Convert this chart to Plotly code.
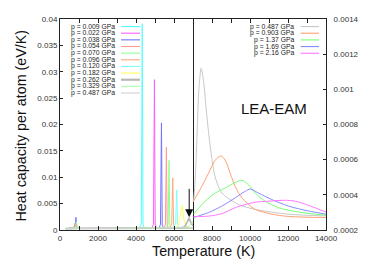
import plotly.graph_objects as go

# ---------------- data ----------------
# Left panel (0 - 7000 K), left axis, eV/K per atom
left_labels = ["p = 0.009 GPa", "p = 0.022 GPa", "p = 0.038 GPa", "p = 0.054 GPa",
               "p = 0.070 GPa", "p = 0.096 GPa", "p = 0.120 GPa", "p = 0.182 GPa",
               "p = 0.262 GPa", "p = 0.329 GPa", "p = 0.487 GPa"]
left_colors = ["#55ffff", "#ff5cff", "#7373ff", "#ff9a90", "#90ff90", "#ffaa7a",
               "#80ffff", "#ffff5c", "#b8b8b8", "#aaffaa", "#d2d2d2"]
left_widths = [1, 1, 1, 1, 1, 1, 1, 1, 1.8, 1, 1]

T_009 = [300, 600, 720, 780, 810, 840, 900, 1200, 2500, 4000, 4200, 4280, 4330, 4370, 4450, 5000, 6000, 7000]
C_009 = [0.00026, 0.00027, 0.00040, 0.00070, 0.00110, 0.00055, 0.00030, 0.00028, 0.00028, 0.00030,
         0.00045, 0.0012, 0.0391, 0.0010, 0.00040, 0.00034, 0.00033, 0.00033]
T_022 = [300, 600, 700, 760, 790, 820, 880, 1200, 2500, 4500, 4850, 4920, 4970, 5010, 5100, 6000, 7000]
C_022 = [0.00026, 0.00027, 0.00040, 0.00080, 0.00125, 0.00060, 0.00030, 0.00028, 0.00029, 0.00031,
         0.00045, 0.0011, 0.0285, 0.0009, 0.00038, 0.00034, 0.00033]
T_038 = [300, 600, 760, 810, 840, 870, 930, 1200, 2500, 5000, 5230, 5290, 5340, 5380, 5460, 6200, 7000]
C_038 = [0.00026, 0.00027, 0.00045, 0.00110, 0.00240, 0.00080, 0.00030, 0.00028, 0.00029, 0.00032,
         0.00048, 0.0011, 0.0203, 0.0009, 0.00038, 0.00034, 0.00033]
T_054 = [300, 600, 720, 770, 800, 830, 890, 1200, 2500, 5200, 5490, 5550, 5600, 5640, 5720, 6400, 7000]
C_054 = [0.00026, 0.00027, 0.00040, 0.00080, 0.00120, 0.00060, 0.00030, 0.00028, 0.00029, 0.00033,
         0.00050, 0.0011, 0.0157, 0.0009, 0.00038, 0.00034, 0.00033]
T_070 = [300, 600, 780, 830, 860, 890, 950, 1300, 2500, 5300, 5620, 5690, 5740, 5780, 5860, 6500, 7000]
C_070 = [0.00026, 0.00027, 0.00040, 0.00090, 0.00160, 0.00070, 0.00030, 0.00028, 0.00029, 0.00033,
         0.00052, 0.0012, 0.0132, 0.0009, 0.00040, 0.00035, 0.00034]
T_096 = [300, 600, 800, 850, 880, 910, 970, 1300, 2500, 5500, 5810, 5880, 5935, 5980, 6060, 6600, 7000]
C_096 = [0.00026, 0.00027, 0.00038, 0.00070, 0.00100, 0.00055, 0.00030, 0.00028, 0.00029, 0.00034,
         0.00055, 0.0012, 0.0099, 0.0010, 0.00042, 0.00036, 0.00035]
T_120 = [300, 600, 820, 870, 900, 930, 990, 1300, 2500, 5700, 6010, 6085, 6145, 6195, 6280, 6700, 7000]
C_120 = [0.00026, 0.00027, 0.00036, 0.00060, 0.00080, 0.00050, 0.00030, 0.00028, 0.00029, 0.00035,
         0.00060, 0.0013, 0.0076, 0.0011, 0.00045, 0.00037, 0.00036]
T_182 = [300, 600, 850, 900, 930, 960, 1020, 1300, 2500, 6000, 6230, 6330, 6430, 6520, 6620, 6800, 7000]
C_182 = [0.00026, 0.00027, 0.00034, 0.00050, 0.00060, 0.00045, 0.00030, 0.00028, 0.00029, 0.00036,
         0.00080, 0.0024, 0.0046, 0.0020, 0.00065, 0.00042, 0.00040]
T_262 = [300, 600, 880, 930, 960, 990, 1050, 1300, 2500, 6300, 6560, 6680, 6790, 6890, 6960, 7000]
C_262 = [0.00026, 0.00027, 0.00032, 0.00045, 0.00050, 0.00040, 0.00030, 0.00028, 0.00029, 0.00037,
         0.00060, 0.0014, 0.0023, 0.0014, 0.0009, 0.0008]
T_329 = [300, 600, 900, 960, 990, 1020, 1080, 1300, 2500, 6300, 6600, 6800, 6900, 7000]
C_329 = [0.00026, 0.00027, 0.00031, 0.00040, 0.00045, 0.00038, 0.00030, 0.00028, 0.00029, 0.00036,
         0.00045, 0.00080, 0.00115, 0.00170]
T_487l = [300, 600, 930, 990, 1020, 1050, 1110, 1300, 2500, 6300, 6700, 6900, 7000]
C_487l = [0.00026, 0.00027, 0.00030, 0.00036, 0.00040, 0.00035, 0.00029, 0.00028, 0.00029, 0.00033,
          0.00036, 0.00040, 0.00045]

left_T = [T_009, T_022, T_038, T_054, T_070, T_096, T_120, T_182, T_262, T_329, T_487l]
left_C = [C_009, C_022, C_038, C_054, C_070, C_096, C_120, C_182, C_262, C_329, C_487l]

# Right panel (7000 - 14000 K), right axis
right_labels = ["p = 0.487 GPa", "p = 0.903 GPa", "p = 1.37 GPa", "p = 1.69 GPa", "p = 2.16 GPa"]
right_colors = ["#c8c8c8", "#ffa070", "#77ff77", "#8a8aff", "#ff77ff"]

T_487 = [7025, 7100, 7200, 7300, 7430, 7550, 7700, 7815, 8000, 8170, 8517, 9000, 9396, 10277, 12030, 14000]
C_487 = [0.00036, 0.00046, 0.00070, 0.00098, 0.00112, 0.00105, 0.00088, 0.00076, 0.00060, 0.00050,
         0.00041, 0.00037, 0.000345, 0.000317, 0.00029, 0.00028]
T_903 = [7025, 7462, 7815, 8170, 8465, 8694, 8958, 9222, 9570, 10277, 11150, 12030, 14000]
C_903 = [0.000364, 0.000448, 0.000522, 0.000597, 0.000621, 0.000597, 0.000522, 0.000448, 0.000383,
         0.000317, 0.00029, 0.000277, 0.000271]
T_137 = [7025, 7640, 8170, 8694, 9222, 9570, 9925, 10277, 10800, 11505, 12560, 14000]
C_137 = [0.00029, 0.000364, 0.00041, 0.000439, 0.00047, 0.000482, 0.000457, 0.00041, 0.000364,
         0.000327, 0.000302, 0.000284]
T_169 = [7025, 7815, 8517, 9222, 9750, 10013, 10450, 11150, 12030, 13085, 14000]
C_169 = [0.000271, 0.000299, 0.000336, 0.000383, 0.00042, 0.000433, 0.00041, 0.000373, 0.000336,
         0.000308, 0.00029]
T_216 = [7025, 7815, 8517, 9222, 9750, 10277, 10977, 11855, 12384, 13085, 14000]
C_216 = [0.000276, 0.000279, 0.000293, 0.000327, 0.000345, 0.000358, 0.000364, 0.000369, 0.000364,
         0.00034, 0.000302]

right_T = [T_487, T_903, T_137, T_169, T_216]
right_C = [C_487, C_903, C_137, C_169, C_216]

# Axis ticks
left_x_ticks = [0, 1000, 2000, 3000, 4000, 5000, 6000, 7000]
left_x_text = ["0", "", "2000", "", "4000", "", "6000", ""]
right_x_ticks = [7000, 8000, 9000, 10000, 11000, 12000, 13000, 14000]
right_x_text = ["", "8000", "", "10000", "", "12000", "", "14000"]
left_y_ticks = [0, 0.005, 0.01, 0.015, 0.02, 0.025, 0.03, 0.035, 0.04]
left_y_text = ["0", "0.005", "0.01", "0.015", "0.02", "0.025", "0.03", "0.035", "0.04"]
right_y_ticks = [0.0002, 0.0004, 0.0006, 0.0008, 0.001, 0.0012, 0.0014]
right_y_text = ["0.0002", "0.0004", "0.0006", "0.0008", "0.001", "0.0012", "0.0014"]

arrow_T, arrow_C = 6800, 0.0024

# ---------------- figure ----------------
W, H = 371, 273
PL, PR, PT, PB = 52, 318, 7, 222
FONT = "Liberation Sans, Arial, Helvetica, sans-serif"


def px(x):
    return (x - PL) / (PR - PL)


def py(y):
    return (PB - y) / (PB - PT)


fig = go.Figure()

for T, C, col, w, lab in zip(left_T, left_C, left_colors, left_widths, left_labels):
    fig.add_trace(go.Scatter(x=T, y=C, mode="lines", line=dict(color=col, width=w),
                             xaxis="x", yaxis="y", name=lab, showlegend=False))

for T, C, col, lab in zip(right_T, right_C, right_colors, right_labels):
    fig.add_trace(go.Scatter(x=T, y=C, mode="lines", line=dict(color=col, width=1, shape="spline", smoothing=0.8),
                             xaxis="x2", yaxis="y2", name=lab, showlegend=False))

axis_common = dict(showline=True, linecolor="#222", linewidth=1, ticks="inside",
                   tickcolor="#222", showgrid=False, zeroline=False,
                   tickfont=dict(family=FONT, size=8, color="#333"))

fig.update_layout(
    width=W, height=H,
    margin=dict(l=PL, r=W - PR, t=PT, b=H - PB),
    paper_bgcolor="white", plot_bgcolor="white",
    showlegend=False,
    xaxis=dict(domain=[0, 0.5], range=[0, 7000], tickvals=left_x_ticks, ticktext=left_x_text,
               ticklen=4, mirror="ticks", anchor="y", **axis_common),
    xaxis2=dict(domain=[0.5, 1], range=[7000, 14000], tickvals=right_x_ticks, ticktext=right_x_text,
                ticklen=4, mirror="ticks", anchor="y2", **axis_common),
    yaxis=dict(domain=[0, 1], range=[0, 0.04], tickvals=left_y_ticks, ticktext=left_y_text,
               ticklen=3, mirror=True, anchor="x", **axis_common),
    yaxis2=dict(domain=[0, 1], range=[0.0002, 0.0014], tickvals=right_y_ticks, ticktext=right_y_text,
                ticklen=3, mirror=False, anchor="x2", side="right", ticklabelstandoff=5, **axis_common),
)

anns = []
shapes = []

# left legend
for i, (lab, col, w) in enumerate(zip(left_labels, left_colors, left_widths)):
    yy = 14.7 + i * 6.77
    anns.append(dict(x=px(108.5), y=py(yy), xref="paper", yref="paper", text=lab, showarrow=False,
                     xanchor="right", yanchor="middle", font=dict(family=FONT, size=6.8, color="#222")))
    shapes.append(dict(type="line", xref="paper", yref="paper", x0=px(113), x1=px(132), y0=py(yy), y1=py(yy),
                       line=dict(color=col, width=2.2 if w > 1 else 1.1)))

# right legend
for i, (lab, col) in enumerate(zip(right_labels, right_colors)):
    yy = 14.7 + i * 6.8
    anns.append(dict(x=px(288), y=py(yy), xref="paper", yref="paper", text=lab, showarrow=False,
                     xanchor="right", yanchor="middle", font=dict(family=FONT, size=6.8, color="#222")))
    shapes.append(dict(type="line", xref="paper", yref="paper", x0=px(292.7), x1=px(311), y0=py(yy), y1=py(yy),
                       line=dict(color=col, width=1.1)))

# text labels
anns.append(dict(x=px(266), y=py(98.3), xref="paper", yref="paper", text="LEA-EAM", showarrow=False,
                 xanchor="center", yanchor="middle", font=dict(family=FONT, size=15, color="#111")))
anns.append(dict(x=px(195), y=py(243.5), xref="paper", yref="paper", text="Temperature (K)", showarrow=False,
                 xanchor="center", yanchor="middle", font=dict(family=FONT, size=14.3, color="#111")))
anns.append(dict(x=px(12.5), y=py(116), xref="paper", yref="paper", text="Heat capacity per atom (eV/K)",
                 showarrow=False, textangle=-90, xanchor="center", yanchor="middle",
                 font=dict(family=FONT, size=14.3, color="#111")))

# arrow
anns.append(dict(x=arrow_T, y=arrow_C, xref="x", yref="y", ax=0, ay=-30, axref="pixel", ayref="pixel",
                 text="", showarrow=True, arrowhead=2, arrowsize=1.6, arrowwidth=1, arrowcolor="#111",
                 standoff=0))

fig.update_layout(annotations=anns, shapes=shapes)

fig.write_html("out.html")
